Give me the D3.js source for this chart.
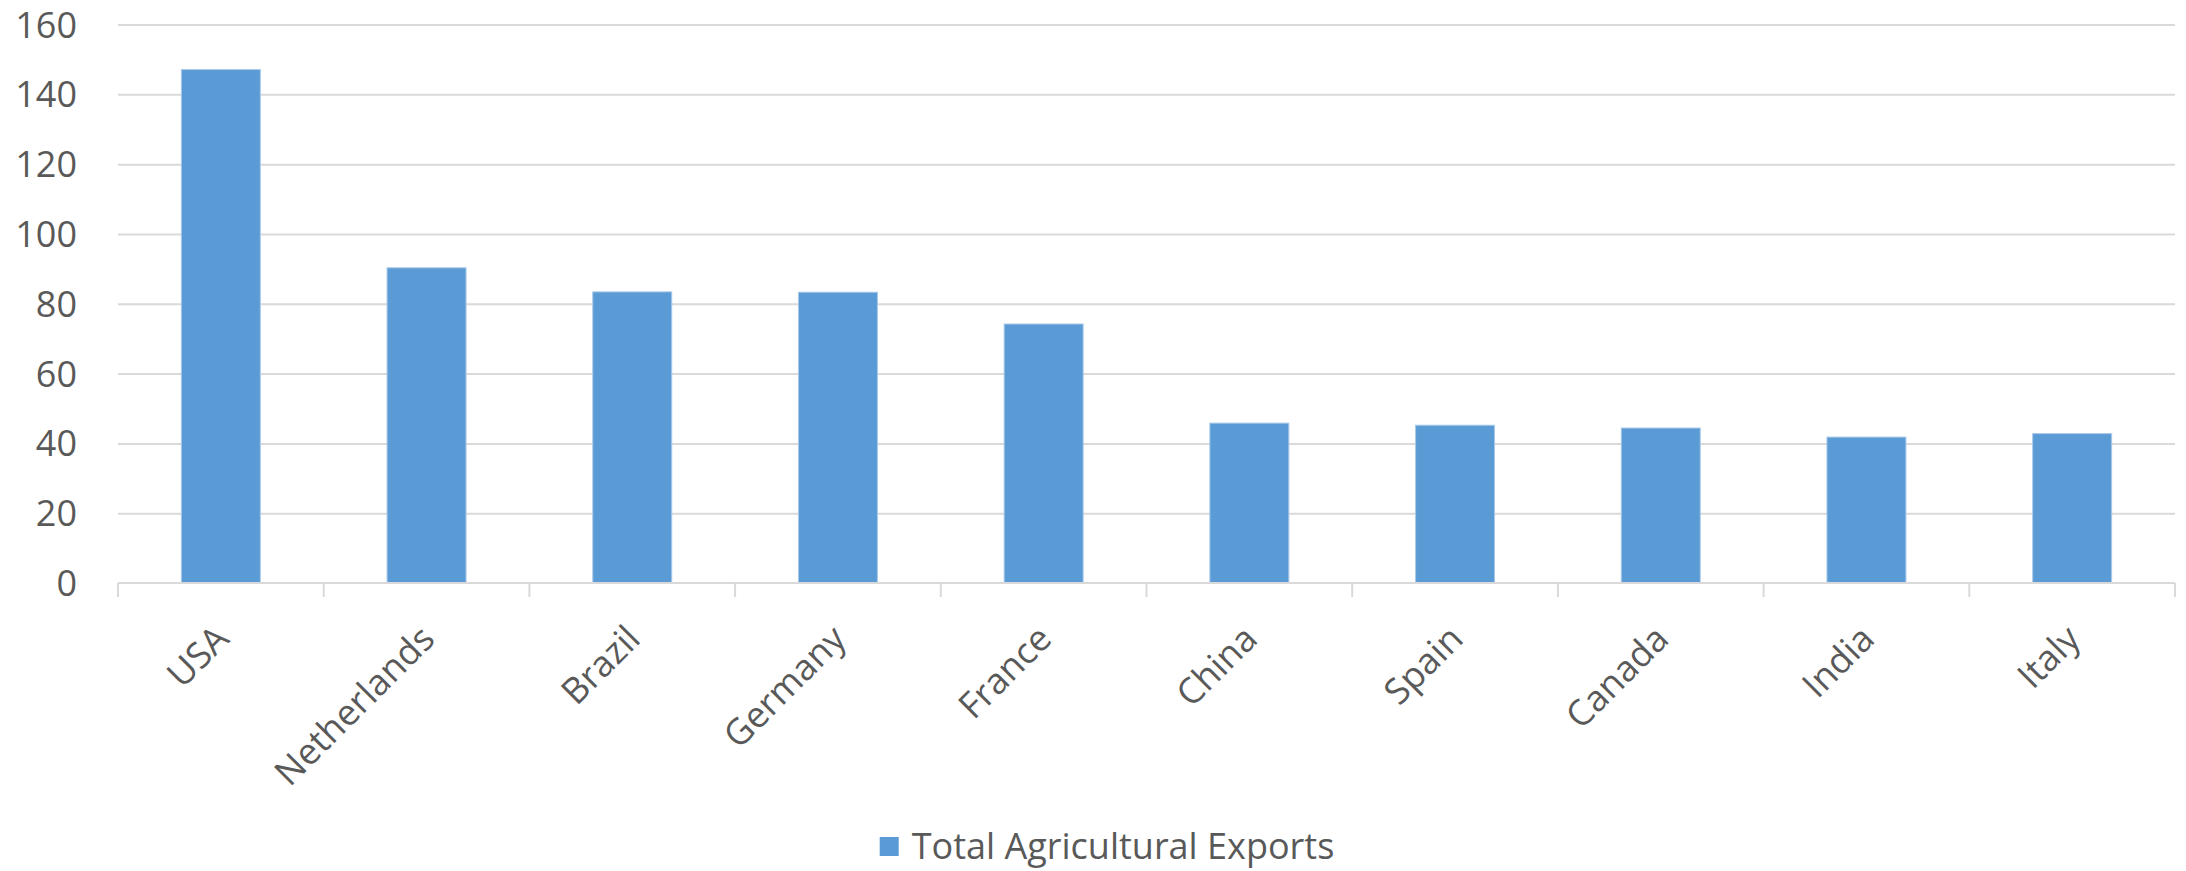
<!DOCTYPE html>
<html>
<head>
<meta charset="utf-8">
<script src="https://cdn.jsdelivr.net/npm/d3@7"></script>
<style>
  html, body { margin: 0; padding: 0; background: #fff; }
  svg { display: block; }
  text { font-family: "Open Sans", "DejaVu Sans", sans-serif; fill: #595959; }
</style>
</head>
<body>
<svg id="chart" width="2186" height="871"></svg>
<script>
const categories = ["USA", "Netherlands", "Brazil", "Germany", "France", "China", "Spain", "Canada", "India", "Italy"];
const exportsValues = [147.1, 90.3, 83.4, 83.3, 74.2, 45.8, 45.2, 44.4, 41.8, 42.8];
const yTicks = [0, 20, 40, 60, 80, 100, 120, 140, 160];
const seriesName = "Total Agricultural Exports";

const W = 2186, H = 871;
const plot = { left: 118, right: 2175, top: 24.5, bottom: 583 };
const barColor = "#5b9bd5";
const gridColor = "#d9d9d9";

const svg = d3.select("#chart");

const y = d3.scaleLinear().domain([0, 160]).range([plot.bottom, plot.top]);
const x = d3.scaleBand().domain(categories).range([plot.left, plot.right])
  .paddingInner(0.616).paddingOuter(0.308);
const xEdge = d3.scaleBand().domain(categories).range([plot.left, plot.right]).padding(0);

// gridlines
const grid = svg.append("g").attr("transform", `translate(${plot.left},0)`)
  .call(d3.axisLeft(y).tickValues(yTicks.filter(v => v !== 0)).tickSize(-(plot.right - plot.left)).tickFormat(""));
grid.select(".domain").remove();
grid.selectAll("line").attr("stroke", gridColor).attr("stroke-width", 2);

// y labels
const yAxis = svg.append("g").attr("transform", `translate(77,0)`)
  .call(d3.axisLeft(y).tickValues(yTicks).tickSize(0).tickPadding(0));
yAxis.select(".domain").remove();
yAxis.selectAll("text")
  .attr("font-size", 36)
  .attr("fill", "#595959")
  .attr("font-family", "'Open Sans', sans-serif")
  .attr("dy", "0.35em");

// bars
svg.append("g").selectAll("rect").data(categories).join("rect")
  .attr("x", d => x(d))
  .attr("width", x.bandwidth())
  .attr("y", (d, i) => y(exportsValues[i]))
  .attr("height", (d, i) => y(0) - y(exportsValues[i]))
  .attr("fill", barColor)
  .attr("stroke", "#a9c9ea")
  .attr("stroke-width", 1);

// x axis line and ticks
const xAxis = svg.append("g").attr("transform", `translate(0,${plot.bottom})`);
xAxis.append("line")
  .attr("x1", plot.left).attr("x2", plot.right)
  .attr("y1", 0).attr("y2", 0)
  .attr("stroke", gridColor).attr("stroke-width", 2);
const edges = categories.map(c => xEdge(c)).concat([plot.right]);
xAxis.selectAll("line.tick").data(edges).join("line")
  .attr("class", "tick")
  .attr("x1", d => d).attr("x2", d => d)
  .attr("y1", 0).attr("y2", 14)
  .attr("stroke", gridColor).attr("stroke-width", 2);

// x labels
svg.append("g").selectAll("text").data(categories).join("text")
  .attr("transform", d => `translate(${x(d) + x.bandwidth() / 2 + 10},${plot.bottom + 58}) rotate(-45)`)
  .attr("text-anchor", "end")
  .attr("font-size", 36)
  .text(d => d);

// legend
const legend = svg.append("g");
const lt = legend.append("text")
  .attr("x", 32).attr("y", 0)
  .attr("font-size", 36)
  .text(seriesName);
legend.append("rect")
  .attr("x", 0).attr("y", -22)
  .attr("width", 19).attr("height", 19)
  .attr("fill", barColor);
const tw = lt.node().getComputedTextLength();
const legendW = 32 + tw;
legend.attr("transform", `translate(${1107 - legendW / 2},859)`);
</script>
</body>
</html>
